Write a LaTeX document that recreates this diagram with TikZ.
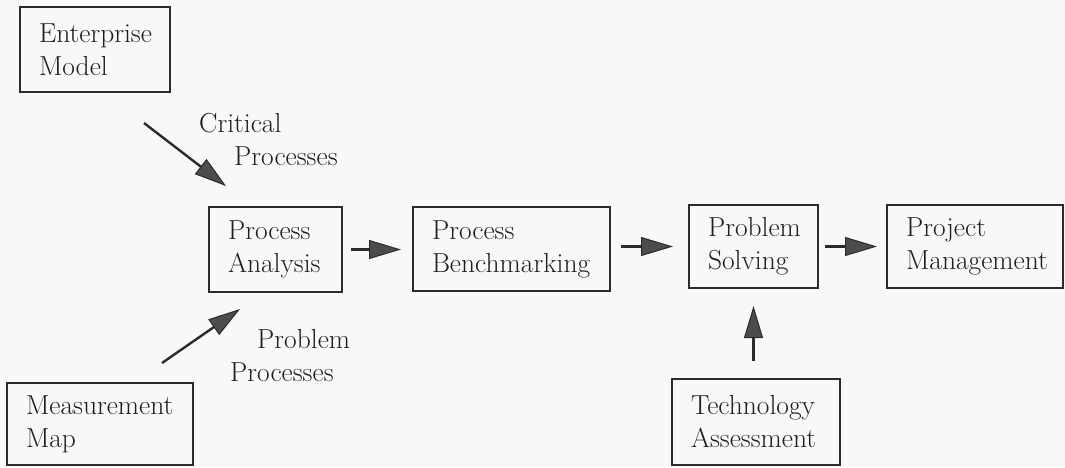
\documentclass[tikz,border=0pt]{standalone}
\usetikzlibrary{arrows.meta,calc}
\definecolor{ink}{HTML}{2B2B2B}
\definecolor{letter}{HTML}{1E1E1E}
\definecolor{headfill}{HTML}{4C4C4C}
\definecolor{paper}{HTML}{F8F8F6}
\tikzset{
  block/.style={draw=ink, line width=2pt, text=letter, align=left,
    inner xsep=19pt, inner ysep=0pt, minimum height=#1},
  block/.default=84pt,
  flow/.style={draw=ink, line width=2.4pt,
    -{Triangle[length=32pt,width=19pt,fill=headfill,line width=1pt]}},
  caption/.style={text=letter, align=left, inner sep=0pt, anchor=north west}
}
\begin{document}
\begin{tikzpicture}[x=1pt,y=-1pt,font=\fontsize{27.5}{33}\selectfont]
\fill[paper] (0,0) rectangle (1065,467);
\useasboundingbox (0,0) rectangle (1065,467);

% input boxes
\node[block=85pt, text width=112pt] (em) at (95,49.5) {Enterprise\\Model};
\node[block=82pt, text width=148pt] (mm) at (100,424) {Measurement\\Map};
\node[block=86pt, text width=130pt] (ta) at (756,422) {Technology\\Assessment};

% main chain
\node[block=85pt, text width=95pt]  (pa) at (275.5,249.5) {Process\\Analysis};
\node[block=84pt, text width=159pt] (pb) at (511.5,249) {Process\\Benchmarking};
\node[block=83pt, text width=91pt]  (ps) at (753.5,246.5) {Problem\\Solving};
\node[block=83pt, text width=138pt] (pm) at (975,246.5) {Project\\Management};

% connectors along the chain
\draw[flow, shorten <=8pt, shorten >=11pt] (pa.east) -- (pa.east -| pb.west);
\draw[flow, shorten <=10pt, shorten >=15pt] (pb.east |- ps.west) -- (ps.west);
\draw[flow, shorten <=6pt, shorten >=9pt] (ps.east) -- (pm.west);
\draw[flow, shorten <=17pt, shorten >=17pt] (ta.north -| ps.south) -- (ps.south);

% feeding arrows with their labels
\coordinate (c1s) at ($(em.south east)+(-27,30)$);
\coordinate (c1e) at ($(pa.north west)+(18,-20)$);
\draw[flow] (c1s) -- (c1e);
\coordinate (c2s) at ($(mm.north east)+(-32,-19)$);
\coordinate (c2e) at ($(pa.south west)+(32,16)$);
\draw[flow] (c2s) -- (c2e);

\node[caption] (lcrit) at (199,113) {Critical\\\hspace*{35pt}Processes};
\node[caption] (lprob) at (230,329) {\hspace*{27pt}Problem\\Processes};
\end{tikzpicture}
\end{document}
